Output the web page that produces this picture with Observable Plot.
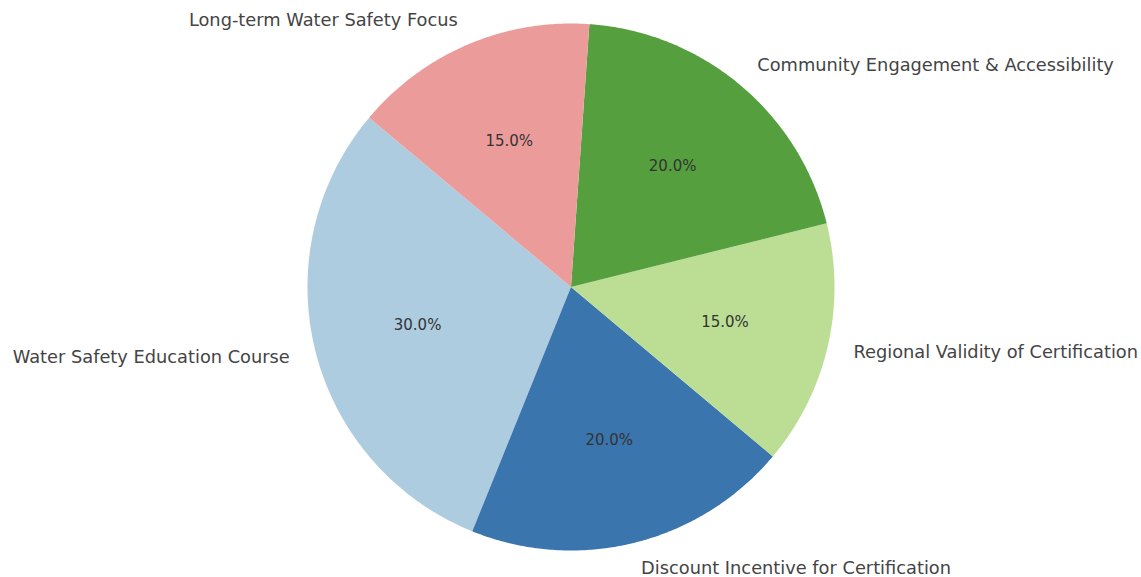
<!DOCTYPE html>
<html>
<head>
<meta charset="utf-8">
<script src="https://cdn.jsdelivr.net/npm/d3@7"></script>
<script src="https://cdn.jsdelivr.net/npm/@observablehq/plot@0.6"></script>
<style>
  html, body { margin: 0; padding: 0; background: #fff; }
  #chart svg { display: block; }
</style>
</head>
<body>
<div id="chart"></div>
<script>
const categories = [
  "Water Safety Education Course",
  "Discount Incentive for Certification",
  "Regional Validity of Certification",
  "Community Engagement & Accessibility",
  "Long-term Water Safety Focus"
];
const shares = [30, 20, 15, 20, 15];
const colors = ["#aecce0", "#3a75ad", "#bcde94", "#559f3f", "#eb9c9a"];
const startAngle = 140; // degrees, counter-clockwise from east

const W = 1141, H = 577;
const cx = 570.5, cy = 286.5, R = 263.5;

// Build slices
const total = d3.sum(shares);
let a0 = startAngle;
const slices = categories.map((c, i) => {
  const sweep = shares[i] / total * 360;
  const s = {category: c, value: shares[i], a0, a1: a0 + sweep, color: colors[i]};
  a0 += sweep;
  return s;
});
const rad = d => d * Math.PI / 180;

const polyPts = [];
for (const s of slices) {
  polyPts.push({category: s.category, x: 0, y: 0});
  const n = Math.max(2, Math.ceil((s.a1 - s.a0) / 0.5));
  for (let k = 0; k <= n; k++) {
    const a = rad(s.a0 + (s.a1 - s.a0) * k / n);
    polyPts.push({category: s.category, x: Math.cos(a), y: Math.sin(a)});
  }
}
const labels = slices.map(s => {
  const m = rad((s.a0 + s.a1) / 2);
  return {
    category: s.category,
    pct: s.value.toFixed(1) + "%",
    lx: 1.1 * Math.cos(m), ly: 1.1 * Math.sin(m),
    px: 0.6 * Math.cos(m), py: 0.6 * Math.sin(m),
    anchor: Math.cos(m) >= 0 ? "start" : "end"
  };
});

const chart = Plot.plot({
  width: W, height: H,
  margin: 0,
  x: {domain: [-cx / R, (W - cx) / R], range: [0, W], axis: null},
  y: {domain: [-(H - cy) / R, cy / R], range: [H, 0], axis: null},
  color: {domain: categories, range: colors},
  style: {fontFamily: "'DejaVu Sans', sans-serif", background: "#fff"},
  marks: [
    Plot.line(polyPts, {x: "x", y: "y", z: "category", fill: "category", stroke: "none", curve: "linear-closed"}),
    Plot.text(labels.filter(d => d.anchor === "start"), {x: "lx", y: "ly", text: "category", textAnchor: "start", fontSize: 17.8, fill: "#444"}),
    Plot.text(labels.filter(d => d.anchor === "end"), {x: "lx", y: "ly", text: "category", textAnchor: "end", fontSize: 17.8, fill: "#444"}),
    Plot.text(labels, {x: "px", y: "py", text: "pct", fontSize: 15, fill: "#333"})
  ]
});
document.getElementById("chart").appendChild(chart);
</script>
</body>
</html>
